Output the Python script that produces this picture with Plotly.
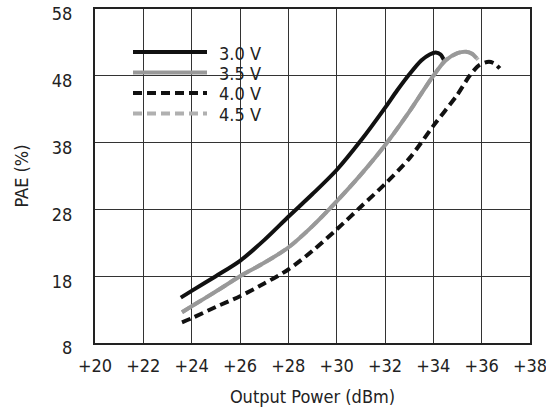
import plotly.graph_objects as go

x_30 = [23.55, 24, 25, 26, 27, 28, 29, 30, 31, 32, 32.5, 33, 33.5, 33.85, 34.1, 34.3, 34.46]
y_30 = [14.8, 15.8, 18.0, 20.3, 23.4, 26.9, 30.3, 33.9, 38.3, 43.2, 45.8, 48.2, 50.3, 51.2, 51.5, 51.2, 50.2]

x_35 = [23.6, 24, 25, 26, 27, 28, 29, 30, 31, 32, 33, 34, 34.5, 35.0, 35.35, 35.6, 35.8]
y_35 = [12.6, 13.5, 15.7, 18.0, 20.0, 22.3, 25.5, 29.2, 33.2, 37.6, 42.6, 48.0, 50.3, 51.4, 51.6, 51.3, 50.6]

x_40 = [23.6, 24, 25, 26, 27, 28, 29, 30, 31, 32, 33, 34, 35, 35.5, 35.9, 36.3, 36.55, 36.75]
y_40 = [11.1, 11.7, 13.4, 15.0, 16.9, 19.0, 21.8, 25.0, 28.4, 31.8, 35.6, 40.5, 45.2, 48.0, 49.6, 50.1, 49.8, 49.1]

x_45 = [23.6, 24, 25, 26, 27, 28, 29, 30, 31, 32, 33, 34, 34.5, 35.0, 35.35, 35.6, 35.85]
y_45 = [12.6, 13.5, 15.7, 18.0, 20.0, 22.3, 25.5, 29.2, 33.2, 37.6, 42.6, 48.0, 50.3, 51.4, 51.6, 51.3, 50.4]

series_names = ["3.0 V", "3.5 V", "4.0 V", "4.5 V"]

x_ticks = [20, 22, 24, 26, 28, 30, 32, 34, 36, 38]
x_ticktext = ["+20", "+22", "+24", "+26", "+28", "+30", "+32", "+34", "+36", "+38"]
y_ticks = [8, 18, 28, 38, 48, 58]

FONT = "DejaVu Sans Condensed, Liberation Sans Narrow, Roboto, sans-serif"

styles = {
    "3.0 V": dict(color="#111111", width=4),
    "3.5 V": dict(color="#999999", width=4),
    "4.0 V": dict(color="#111111", width=4, dash="9px,5px"),
    "4.5 V": dict(color="#b0b0b0", width=4, dash="9px,5px"),
}

fig = go.Figure()
# draw order: 4.5 V under 3.5 V
for name, xs, ys in [("3.0 V", x_30, y_30), ("4.5 V", x_45, y_45),
                     ("3.5 V", x_35, y_35), ("4.0 V", x_40, y_40)]:
    fig.add_trace(go.Scatter(x=xs, y=ys, mode="lines", name=name, showlegend=False,
                             line=dict(shape="spline", smoothing=0.8, **styles[name])))

# manual legend (paper coords = plot area)
def px2fx(px):
    return (px - 95) / 435.0

def py2fy(py):
    return (343 - py) / 334.0

shapes = [dict(type="rect", xref="paper", yref="paper",
               x0=px2fx(124), x1=px2fx(270), y0=py2fy(124), y1=py2fy(37),
               fillcolor="white", line=dict(width=0), layer="between")]
annotations = []
for i, name in enumerate(series_names):
    py = 52 + i * 20.5
    st = styles[name]
    shapes.append(dict(type="line", xref="paper", yref="paper",
                       x0=px2fx(133), x1=px2fx(207), y0=py2fy(py), y1=py2fy(py),
                       line=dict(color=st["color"], width=4, dash=st.get("dash", "solid")),
                       layer="above"))
    annotations.append(dict(text=name, xref="paper", yref="paper",
                            x=px2fx(217), y=py2fy(py + 1), xanchor="left", yanchor="middle",
                            showarrow=False, font=dict(size=18, color="#222222")))

fig.update_layout(
    width=546, height=420,
    margin=dict(l=95, r=16, t=9, b=77),
    paper_bgcolor="white", plot_bgcolor="white",
    font=dict(family=FONT, size=18, color="#222222"),
    showlegend=False,
    shapes=shapes, annotations=annotations,
    xaxis=dict(range=[20, 38], tickvals=x_ticks, ticktext=x_ticktext,
               showgrid=True, gridcolor="#333333", gridwidth=1,
               showline=True, mirror=True, linecolor="#222222", linewidth=2,
               zeroline=False, ticks="", ticklabelstandoff=5, automargin=False,
               ticklabeloverflow="allow", tickfont=dict(size=18),
               title=dict(text="Output Power (dBm)", standoff=16, font=dict(size=18))),
    yaxis=dict(range=[8, 58], tickvals=y_ticks,
               showgrid=True, gridcolor="#333333", gridwidth=1,
               showline=True, mirror=True, linecolor="#222222", linewidth=2,
               zeroline=False, ticks="", ticklabelstandoff=17, ticklabelshift=5,
               automargin=False, ticklabeloverflow="allow", tickfont=dict(size=18),
               title=dict(text="PAE (%)", standoff=18, font=dict(size=18))),
)

fig.write_html("out.html")
